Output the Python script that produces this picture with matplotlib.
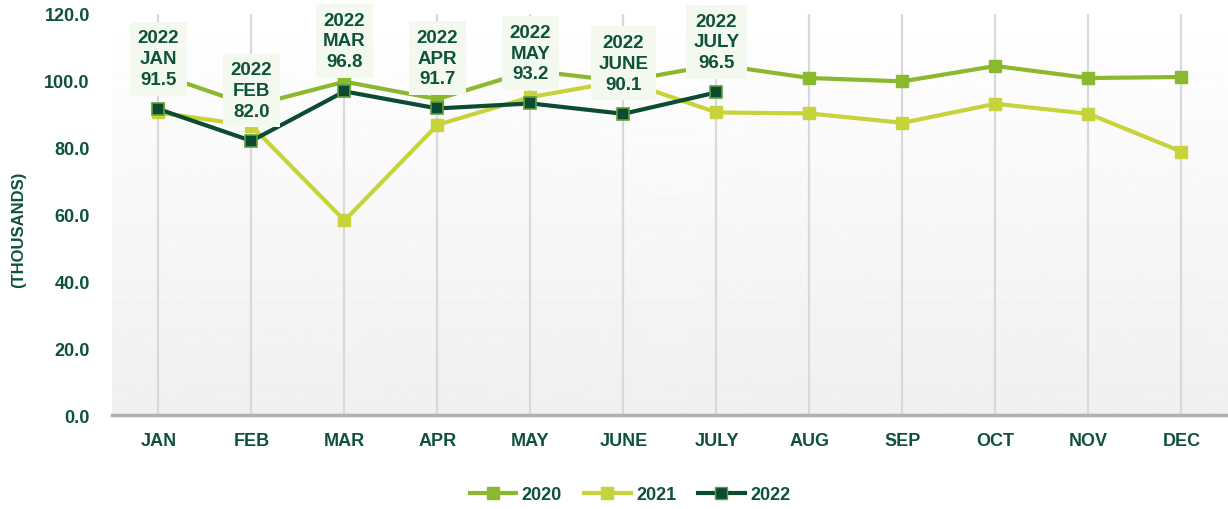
import numpy as np
import matplotlib
matplotlib.use("Agg")
import matplotlib.pyplot as plt
from matplotlib.lines import Line2D

months = ["JAN", "FEB", "MAR", "APR", "MAY", "JUNE", "JULY", "AUG", "SEP", "OCT", "NOV", "DEC"]
sales_2020 = [102.0, 92.5, 99.7, 94.5, 103.0, 99.8, 104.8, 100.8, 99.8, 104.4, 100.8, 101.1]
sales_2021 = [90.5, 86.5, 58.2, 86.8, 95.1, 100.0, 90.5, 90.2, 87.4, 93.1, 90.1, 78.8]
sales_2022 = [91.5, 82.0, 96.8, 91.7, 93.2, 90.1, 96.5]
yticks = [0, 20, 40, 60, 80, 100, 120]

text_green = "#0D5239"
c2020 = "#8AB82F"
c2021 = "#C6D33A"
c2022 = "#0B4A33"

plt.rcParams["font.family"] = ["Liberation Sans", "DejaVu Sans"]
plt.rcParams["font.weight"] = "bold"

fig = plt.figure(figsize=(12.28, 5.10), dpi=100)
ax = fig.add_axes([0.0912, 0.184, 0.9088, 0.787])

x = np.arange(len(months))

# gradient background
grad = np.linspace(1.0, 0.94, 256).reshape(-1, 1)
ax.imshow(grad, cmap="gray", vmin=0, vmax=1, aspect="auto",
          extent=[0, 1, 0, 1], transform=ax.transAxes, zorder=0)

for xi in x:
    ax.axvline(xi, color="#D9D9D9", lw=1.6, zorder=1)

ax.plot(x, sales_2020, color=c2020, lw=3, marker="s", ms=9,
        mfc=c2020, mec=c2020, zorder=3)
ax.plot(x, sales_2021, color=c2021, lw=3, marker="s", ms=9,
        mfc=c2021, mec=c2021, zorder=4)
x22 = np.arange(len(sales_2022))
ax.plot(x22, sales_2022, color=c2022, lw=3, marker="s", ms=8.5,
        mfc=c2022, mec="#5FA03A", mew=1.2, zorder=5)

for xi, v in zip(x22, sales_2022):
    ax.annotate(f"2022\n{months[xi]}\n{v:.1f}", (xi, v),
                xytext=(0, 21), textcoords="offset pixels",
                ha="center", va="bottom", fontsize=13.5, fontweight="bold",
                color=text_green, linespacing=1.3, zorder=6,
                bbox=dict(boxstyle="square,pad=0.4", fc="#F4F9F0", ec="none"))

ax.set_xlim(-0.5, 11.5)
ax.set_ylim(0, 120)
ax.set_xticks(x)
ax.set_xticklabels(months)
ax.set_yticks(yticks)
ax.set_yticklabels([f"{t:.1f}" for t in yticks])
ax.tick_params(axis="both", length=0, labelsize=13, labelcolor=text_green)
ax.tick_params(axis="y", pad=16)
ax.tick_params(axis="x", pad=12)
for lbl in ax.get_xticklabels() + ax.get_yticklabels():
    lbl.set_fontweight("bold")

for s in ["left", "right", "top"]:
    ax.spines[s].set_visible(False)
ax.spines["bottom"].set_color("#B0B0B0")
ax.spines["bottom"].set_linewidth(2.5)

fig.text(0.015, 0.55, "(THOUSANDS)", rotation=90, ha="center", va="center",
         fontsize=12, fontweight="bold", color=text_green)

handles = [
    Line2D([], [], color=c2020, lw=3, marker="s", ms=9, mfc=c2020, mec=c2020),
    Line2D([], [], color=c2021, lw=3, marker="s", ms=9, mfc=c2021, mec=c2021),
    Line2D([], [], color=c2022, lw=3, marker="s", ms=8.5, mfc=c2022, mec="#5FA03A"),
]
leg = fig.legend(handles, ["2020", "2021", "2022"], loc="center",
                 bbox_to_anchor=(0.513, 0.028), ncol=3, frameon=False,
                 fontsize=13, handlelength=2.6, columnspacing=1.2, handletextpad=0.3)
for t in leg.get_texts():
    t.set_color(text_green)
    t.set_fontweight("bold")

fig.savefig("out.png", dpi=100)
